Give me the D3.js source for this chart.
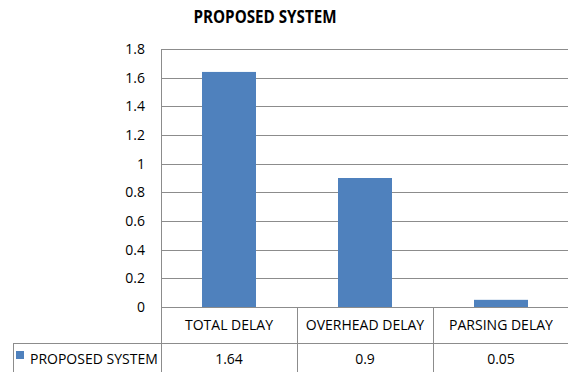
<!DOCTYPE html>
<html>
<head>
<meta charset="utf-8">
<script src="https://cdn.jsdelivr.net/npm/d3@7"></script>
<style>
  html, body { margin: 0; padding: 0; background: #fff; }
  svg { display: block; }
  text { font-family: "Open Sans", "DejaVu Sans Condensed", sans-serif; fill: #000; }
</style>
</head>
<body>
<svg id="chart" width="568" height="372"></svg>
<script>
// Chart data
const categories = ["TOTAL DELAY", "OVERHEAD DELAY", "PARSING DELAY"];
const seriesName = "PROPOSED SYSTEM";
const seriesValues = [1.64, 0.9, 0.05];
const valueLabels = ["1.64", "0.9", "0.05"];
const yTicks = [0, 0.2, 0.4, 0.6, 0.8, 1, 1.2, 1.4, 1.6, 1.8];
const titleText = "PROPOSED SYSTEM";

const svg = d3.select("#chart");
const plot = { left: 161, right: 569, top: 49, bottom: 307 };
const table = { left: 13, row1: 343, bottom: 372 };
const barColor = "#4F81BD";
const lineColor = "#8c8c8c";

const x = d3.scaleBand().domain(categories).range([plot.left, plot.right]).paddingInner(0).paddingOuter(0);
const y = d3.scaleLinear().domain([0, 1.8]).range([plot.bottom, plot.top]);

// Title (condensed bold)
svg.append("text")
  .attr("x", 265).attr("y", 23)
  .attr("text-anchor", "middle")
  .attr("font-size", 18).attr("font-weight", "bold")
  .attr("textLength", 143).attr("lengthAdjust", "spacingAndGlyphs")
  .text(titleText);

// Horizontal gridlines
svg.append("g").selectAll("line").data(yTicks).join("line")
  .attr("x1", plot.left).attr("x2", plot.right)
  .attr("y1", d => Math.round(y(d)) + 0.5).attr("y2", d => Math.round(y(d)) + 0.5)
  .attr("stroke", lineColor).attr("stroke-width", 1);

// Y tick labels
svg.append("g").selectAll("text").data(yTicks).join("text")
  .attr("x", 145).attr("y", d => y(d))
  .attr("dy", "0.35em")
  .attr("text-anchor", "end")
  .attr("font-size", 14)
  .text(d => d3.format("~g")(d));

// Bars
const barW = 54;
svg.append("g").selectAll("rect").data(seriesValues).join("rect")
  .attr("x", (d, i) => x(categories[i]) + (x.bandwidth() - barW) / 2)
  .attr("y", d => y(d))
  .attr("width", barW)
  .attr("height", d => y(0) - y(d))
  .attr("fill", barColor);

// Data table lines
const g = svg.append("g").attr("stroke", lineColor).attr("stroke-width", 1);
// vertical axis line extending through the table
g.append("line").attr("x1", plot.left + 0.5).attr("x2", plot.left + 0.5)
  .attr("y1", plot.top).attr("y2", table.bottom);
// category separators
categories.slice(1).forEach(c => {
  g.append("line").attr("x1", Math.round(x(c)) + 0.5).attr("x2", Math.round(x(c)) + 0.5)
    .attr("y1", plot.bottom).attr("y2", table.bottom);
});
// row separator
g.append("line").attr("x1", table.left).attr("x2", plot.right)
  .attr("y1", table.row1 + 0.5).attr("y2", table.row1 + 0.5);
// legend cell left border
g.append("line").attr("x1", table.left + 0.5).attr("x2", table.left + 0.5)
  .attr("y1", table.row1).attr("y2", table.bottom);

// Category labels
svg.append("g").selectAll("text").data(categories).join("text")
  .attr("x", d => x(d) + x.bandwidth() / 2)
  .attr("y", (plot.bottom + table.row1) / 2)
  .attr("dy", "0.35em")
  .attr("text-anchor", "middle")
  .attr("font-size", 14)
  .text(d => d);

// Value labels
svg.append("g").selectAll("text").data(valueLabels).join("text")
  .attr("x", (d, i) => x(categories[i]) + x.bandwidth() / 2)
  .attr("y", (table.row1 + table.bottom) / 2 + 2)
  .attr("dy", "0.35em")
  .attr("text-anchor", "middle")
  .attr("font-size", 14)
  .text(d => d);

// Legend key
svg.append("rect")
  .attr("x", 16).attr("y", 351).attr("width", 8).attr("height", 8)
  .attr("fill", barColor);
svg.append("text")
  .attr("x", 30).attr("y", (table.row1 + table.bottom) / 2 + 2)
  .attr("dy", "0.35em")
  .attr("font-size", 14)
  .text(seriesName);
</script>
</body>
</html>
